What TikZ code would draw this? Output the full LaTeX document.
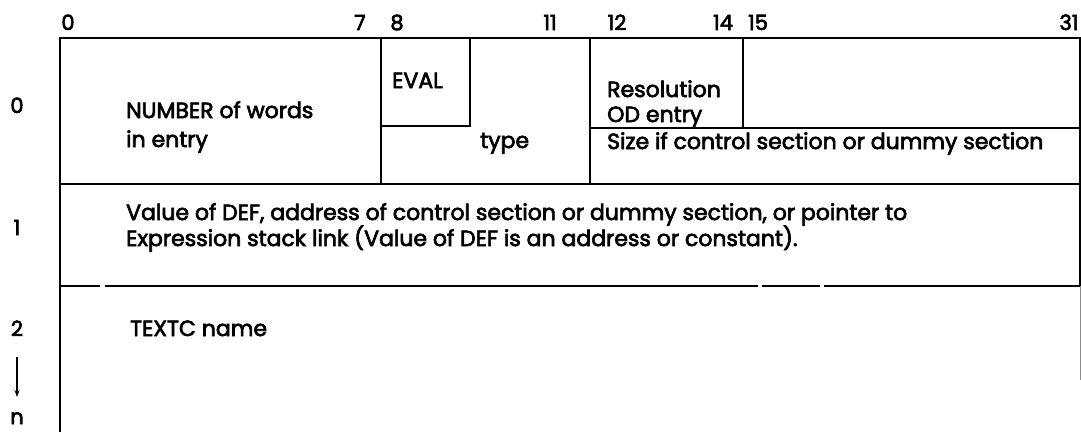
\documentclass[tikz,border=0pt]{standalone}
\usepackage{fontspec}
\setmainfont{Poppins}[FakeBold=3]
\usetikzlibrary{arrows.meta}
\begin{document}
\begin{tikzpicture}[x=1pt,y=-1pt,
  frame/.style={line width=1.6pt},
  thinframe/.style={line width=0.6pt,black!45},
  lbl/.style={inner sep=0pt,anchor=base west,font=\fontsize{22}{26}\selectfont},
  num/.style={inner sep=0pt,anchor=base,font=\fontsize{21}{24}\selectfont},
]
\useasboundingbox (0,0) rectangle (1081,432);
% column numbers
\node[num] (c0) at (68,30) {0};
\node[num] (c7) at (360,30) {7};
\node[num] (c8) at (397,30) {8};
\node[num] (c11) at (550,30) {11};
\node[num] (c12) at (617,30) {12};
\node[num] (c14) at (723,30) {14};
\node[num] (c15) at (758,30) {15};
\node[num] (c31) at (1069,30) {31};
% row labels
\node[num] (r0) at (17,113) {0};
\node[num] (r1) at (17,235) {1};
\node[num] (r2) at (17,336) {2};
\node[num] (rn) at (17,424) {n};
\coordinate (as) at (17,357);
\coordinate (ae) at (17,397);
\draw[line width=1.1pt,-{Stealth[length=7pt,width=5pt]}] (as) -- (ae);
% frame
\draw[frame] (60,432) -- (60,38) -- (1080,38) -- (1080,286);
\draw[thinframe] (1080,286) -- (1080,380);
\draw[frame] (60,184) -- (1080,184);
\draw[frame,dash pattern=on 40pt off 5pt on 653pt off 4pt on 58pt off 4pt on 400pt] (60,286) -- (1080,286);
\draw[frame] (381,38) -- (381,184);
\draw[frame] (381,126) -- (470,126) -- (470,38);
\draw[frame] (590,38) -- (590,184);
\draw[frame] (743,38) -- (743,128);
\draw[frame] (590,128) -- (1080,128);
% texts
\node[lbl] (t1) at (126,118) {NUMBER of words};
\node[lbl] (t2) at (126,147) {in entry};
\node[lbl] (t3) at (392,88) {EVAL};
\node[lbl] (t4) at (480,148) {type};
\node[lbl] (t5) at (607,97) {Resolution};
\node[lbl] (t6) at (607,122) {OD entry};
\node[lbl] (t7) at (607,149) {Size if control section or dummy section};
\node[lbl] (t8) at (126,220) {Value of DEF, address of control section or dummy section, or pointer to};
\node[lbl] (t9) at (126,246) {Expression stack link (Value of DEF is an address or constant).};
\node[lbl] (t10) at (130,336) {TEXTC name};
\end{tikzpicture}
\end{document}
